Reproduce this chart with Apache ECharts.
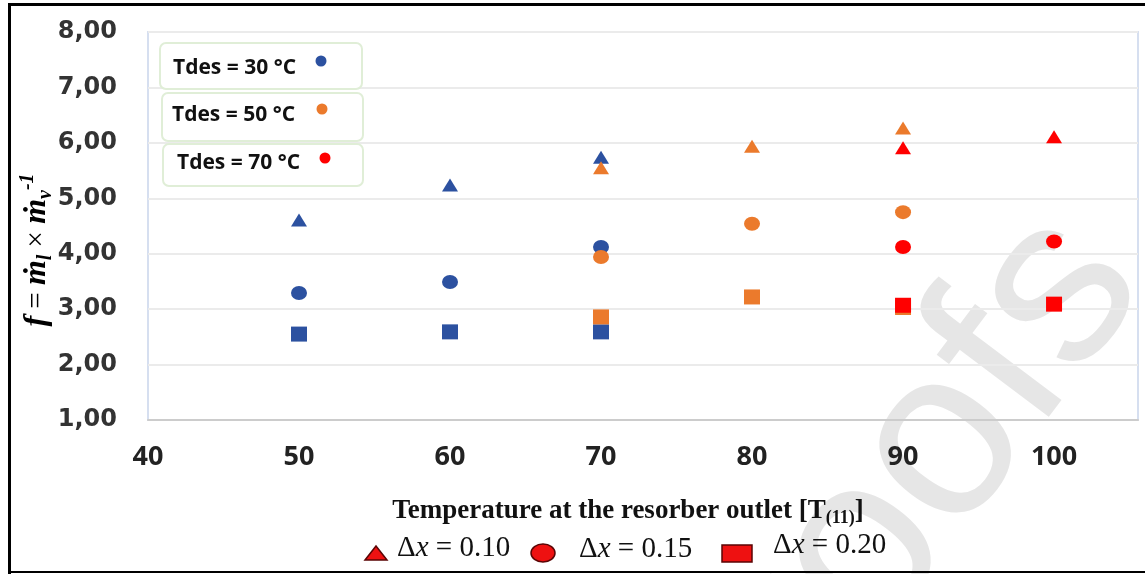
<!DOCTYPE html>
<html><head><meta charset="utf-8">
<script src="https://cdn.jsdelivr.net/npm/echarts@6/dist/echarts.min.js"></script>
<style>html,body{margin:0;padding:0;background:#fff}#c{width:1145px;height:574px}</style>
</head><body><div id="c"></div>
<script>
// ---- data ----
const temps = [50, 60, 70, 80, 90, 100];
const tdesLabels = ['Tdes = 30 °C', 'Tdes = 50 °C', 'Tdes = 70 °C'];
const dxLabels = ['0.10', '0.15', '0.20'];
const xTitle = 'Temperature at the resorber outlet [T';
const xTitleSub = '(11)';
// Tdes = 30 °C
const t30_dx010 = [4.61, 5.24, 5.74, null, null, null];
const t30_dx015 = [3.29, 3.49, 4.12, null, null, null];
const t30_dx020 = [2.55, 2.59, 2.59, null, null, null];
// Tdes = 50 °C
const t50_dx010 = [null, null, 5.55, 5.94, 6.27, null];
const t50_dx015 = [null, null, 3.94, 4.54, 4.75, null];
const t50_dx020 = [null, null, 2.86, 3.22, 3.03, null];
// Tdes = 70 °C
const t70_dx010 = [null, null, null, null, 5.91, 6.11];
const t70_dx015 = [null, null, null, null, 4.12, 4.22];
const t70_dx020 = [null, null, null, null, 3.07, 3.09];

const colors = ['#2c51a0', '#eb7a2c', '#ff0000'];
const groups = [
  [t30_dx010, t30_dx015, t30_dx020],
  [t50_dx010, t50_dx015, t50_dx020],
  [t70_dx010, t70_dx015, t70_dx020]
];
const shapes = [
  { symbol: 'triangle', size: [16, 13] },
  { symbol: 'circle', size: [16, 14] },
  { symbol: 'rect', size: [16, 15] }
];

const series = [];
groups.forEach((g, gi) => {
  g.forEach((arr, si) => {
    series.push({
      type: 'scatter',
      name: tdesLabels[gi] + ' Δx=' + dxLabels[si],
      symbol: shapes[si].symbol,
      symbolSize: shapes[si].size,
      itemStyle: { color: colors[gi], opacity: 1 },
      z: 3 + gi,
      data: temps.map((t, i) => arr[i] == null ? null : [t, arr[i]]).filter(Boolean)
    });
  });
});

const chart = echarts.init(document.getElementById('c'), null, { renderer: 'canvas' });

const legendBoxes = [
  { x: 160, y: 43, w: 202, h: 46, tx: 173, ty: 68, dx: 321, dy: 61 },
  { x: 162, y: 93, w: 201, h: 48, tx: 172, ty: 115, dx: 322, dy: 109 },
  { x: 163, y: 144, w: 200, h: 42, tx: 177, ty: 163, dx: 325, dy: 158 }
];
const graphics = [];
// watermark
graphics.push({
  type: 'text', x: 935, y: 458, rotation: 53 * Math.PI / 180, z: -10, silent: true,
  style: { text: 'roofs', font: '240px "Liberation Sans"', fill: '#e6e6e6', align: 'center', verticalAlign: 'middle' }
});
// frame
graphics.push({ type: 'line', z: 10, shape: { x1: 8, y1: 4.5, x2: 1145, y2: 4.5 }, style: { stroke: '#000', lineWidth: 3 } });
graphics.push({ type: 'line', z: 10, shape: { x1: 9.5, y1: 3, x2: 9.5, y2: 574 }, style: { stroke: '#000', lineWidth: 3 } });
graphics.push({ type: 'line', z: 10, shape: { x1: 8, y1: 572, x2: 1145, y2: 572 }, style: { stroke: '#000', lineWidth: 2 } });
// y-axis title
graphics.push({
  type: 'text', z: 9, x: 37, y: 250, rotation: Math.PI / 2,
  style: {
    text: '{i|f}{o| = }{i|ṁ}{sub|l}{o| × }{i|ṁ}{sub|v}{sup|-1}',
    align: 'center', verticalAlign: 'middle',
    rich: {
      i: { font: 'italic bold 32px "Liberation Serif"', fill: '#000', lineHeight: 38 },
      o: { font: '29px "Liberation Serif"', fill: '#000', lineHeight: 38 },
      sub: { font: 'italic bold 20px "Liberation Serif"', fill: '#000', verticalAlign: 'bottom', lineHeight: 38 },
      sup: { font: 'italic bold 20px "Liberation Serif"', fill: '#000', verticalAlign: 'top', lineHeight: 38 }
    }
  }
});
// x-axis title
graphics.push({
  type: 'text', z: 9, x: 628, y: 511,
  style: {
    text: '{a|' + xTitle + '}{s|' + xTitleSub + '}{a|]}',
    align: 'center', verticalAlign: 'middle',
    rich: {
      a: { font: 'bold 27px "Liberation Serif"', fill: '#111', lineHeight: 32 },
      s: { font: 'bold 18px "Liberation Serif"', fill: '#111', verticalAlign: 'bottom', lineHeight: 32, padding: [8, 0, 0, 0] }
    }
  }
});
// Tdes legend boxes
legendBoxes.forEach((b, i) => {
  graphics.push({ type: 'rect', z: 8, shape: { x: b.x, y: b.y, width: b.w, height: b.h, r: 6 }, style: { fill: '#fff', stroke: '#e0eed7', lineWidth: 2 } });
  graphics.push({ type: 'text', z: 9, x: b.tx, y: b.ty, style: { text: tdesLabels[i], font: 'bold 21px "Open Sans"', fill: '#111', align: 'left', verticalAlign: 'middle' } });
  graphics.push({ type: 'circle', z: 9, shape: { cx: b.dx, cy: b.dy, r: 5.5 }, style: { fill: colors[i] } });
});
// Δx legend at bottom
const lgFill = '#ee1111', lgStroke = '#5a0505';
graphics.push({ type: 'polygon', z: 9, shape: { points: [[365, 560], [376, 546], [387, 560]] }, style: { fill: lgFill, stroke: lgStroke, lineWidth: 1.5 } });
graphics.push({ type: 'ellipse', z: 9, shape: { cx: 543, cy: 553, rx: 12, ry: 9 }, style: { fill: lgFill, stroke: lgStroke, lineWidth: 1.5 } });
graphics.push({ type: 'rect', z: 9, shape: { x: 722, y: 545, width: 30, height: 17 }, style: { fill: lgFill, stroke: lgStroke, lineWidth: 1.5 } });
const dxPos = [[397, 548], [579, 549], [773, 545]];
dxPos.forEach((p, i) => {
  graphics.push({
    type: 'text', z: 9, x: p[0], y: p[1],
    style: {
      text: '{a|Δ}{i|x}{a| = ' + dxLabels[i] + '}',
      align: 'left', verticalAlign: 'middle',
      rich: {
        a: { font: '29px "Liberation Serif"', fill: '#111' },
        i: { font: 'italic 29px "Liberation Serif"', fill: '#111' }
      }
    }
  });
});

chart.setOption({
  animation: false,
  backgroundColor: '#fff',
  grid: { left: 148, right: 7, top: 32, bottom: 154, show: true, borderColor: '#d6dff0', borderWidth: 2, backgroundColor: 'transparent' },
  xAxis: {
    type: 'value', min: 40, max: 105.56, interval: 10,
    axisLine: { show: true, lineStyle: { color: '#cccccc', width: 2 } },
    axisTick: { show: false },
    splitLine: { show: false },
    axisLabel: {
      margin: 24, color: '#222', fontFamily: 'Open Sans', fontWeight: 'bold', fontSize: 27,
      formatter: v => (Math.abs(v % 10) < 1e-6 ? String(v) : '')
    }
  },
  yAxis: {
    type: 'value', min: 1, max: 8, interval: 1,
    axisLine: { show: false },
    axisTick: { show: false },
    splitLine: { show: true, lineStyle: { color: '#ebebeb', width: 2 } },
    axisLabel: {
      margin: 31, color: '#333', fontFamily: 'DejaVu Sans', fontWeight: 'bold', fontSize: 24,
      formatter: v => v.toFixed(2).replace('.', ',')
    }
  },
  series: series,
  graphic: graphics
});
</script>
</body></html>
